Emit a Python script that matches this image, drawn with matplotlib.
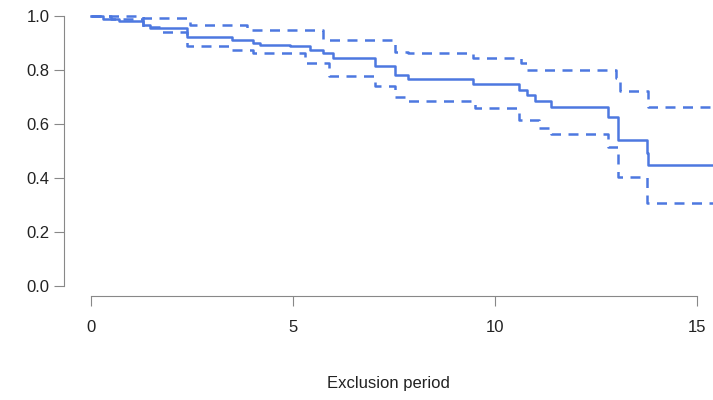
import matplotlib
matplotlib.use("Agg")
import matplotlib.pyplot as plt
plt.rcParams['font.family'] = ['Liberation Sans', 'DejaVu Sans']

t_est = [0, 0.3, 0.7, 1.29, 1.46, 2.37, 3.5, 4.0, 4.18, 4.93, 5.42, 5.74, 5.99, 7.03, 7.52, 7.85, 9.46, 10.6, 10.8, 11.0, 11.4, 12.8, 13.04, 13.76, 13.8, 15.4]
s_est = [1.0, 0.99, 0.98, 0.967, 0.955, 0.922, 0.911, 0.899, 0.893, 0.887, 0.874, 0.862, 0.843, 0.813, 0.781, 0.766, 0.748, 0.726, 0.707, 0.686, 0.664, 0.627, 0.541, 0.492, 0.448, 0.448]
t_up = [0, 1.29, 2.45, 3.86, 5.74, 7.52, 7.85, 9.46, 10.65, 10.8, 13.0, 13.1, 13.8, 15.4]
s_up = [1.0, 0.993, 0.967, 0.948, 0.911, 0.868, 0.862, 0.843, 0.825, 0.80, 0.77, 0.722, 0.663, 0.663]
t_lo = [0, 0.5, 1.29, 1.7, 2.37, 3.5, 4.0, 5.3, 5.9, 7.03, 7.52, 7.85, 9.5, 10.6, 11.1, 11.4, 12.8, 13.04, 13.76, 15.4]
s_lo = [1.0, 0.99, 0.96, 0.94, 0.887, 0.874, 0.862, 0.825, 0.777, 0.739, 0.70, 0.686, 0.659, 0.615, 0.585, 0.563, 0.516, 0.405, 0.307, 0.307]
xticks = [0, 5, 10, 15]
yticks = [0.0, 0.2, 0.4, 0.6, 0.8, 1.0]

col = "#4d78e0"
fig = plt.figure(figsize=(7.13, 4.0), dpi=100)
ax = fig.add_axes([64/713, 1-296/400, 1-64/713, 286/400])
ax.step(t_est, s_est, where="post", color=col, lw=1.8)
ax.step(t_up, s_up, where="post", color=col, lw=1.8, ls=(0, (4, 3)))
ax.step(t_lo, s_lo, where="post", color=col, lw=1.8, ls=(0, (4, 3)))
ax.set_xlim(-0.67, 15.4)
ax.set_ylim(-0.037, 1.022)
for s in ["top", "right"]:
    ax.spines[s].set_visible(False)
ax.spines["left"].set_bounds(0, 1)
ax.spines["bottom"].set_bounds(0, 15)
for s in ["left", "bottom"]:
    ax.spines[s].set_color("#888888")
ax.set_xticks(xticks)
ax.set_yticks(yticks)
ax.set_yticklabels([f"{v:.1f}" for v in yticks])
ax.tick_params(colors="#888888", labelcolor="#222222", labelsize=12, length=7)
ax.tick_params(axis="x", pad=10)
ax.set_xlabel("Exclusion period", fontsize=12, color="#222222", labelpad=30)
fig.savefig("out.png", dpi=100)
